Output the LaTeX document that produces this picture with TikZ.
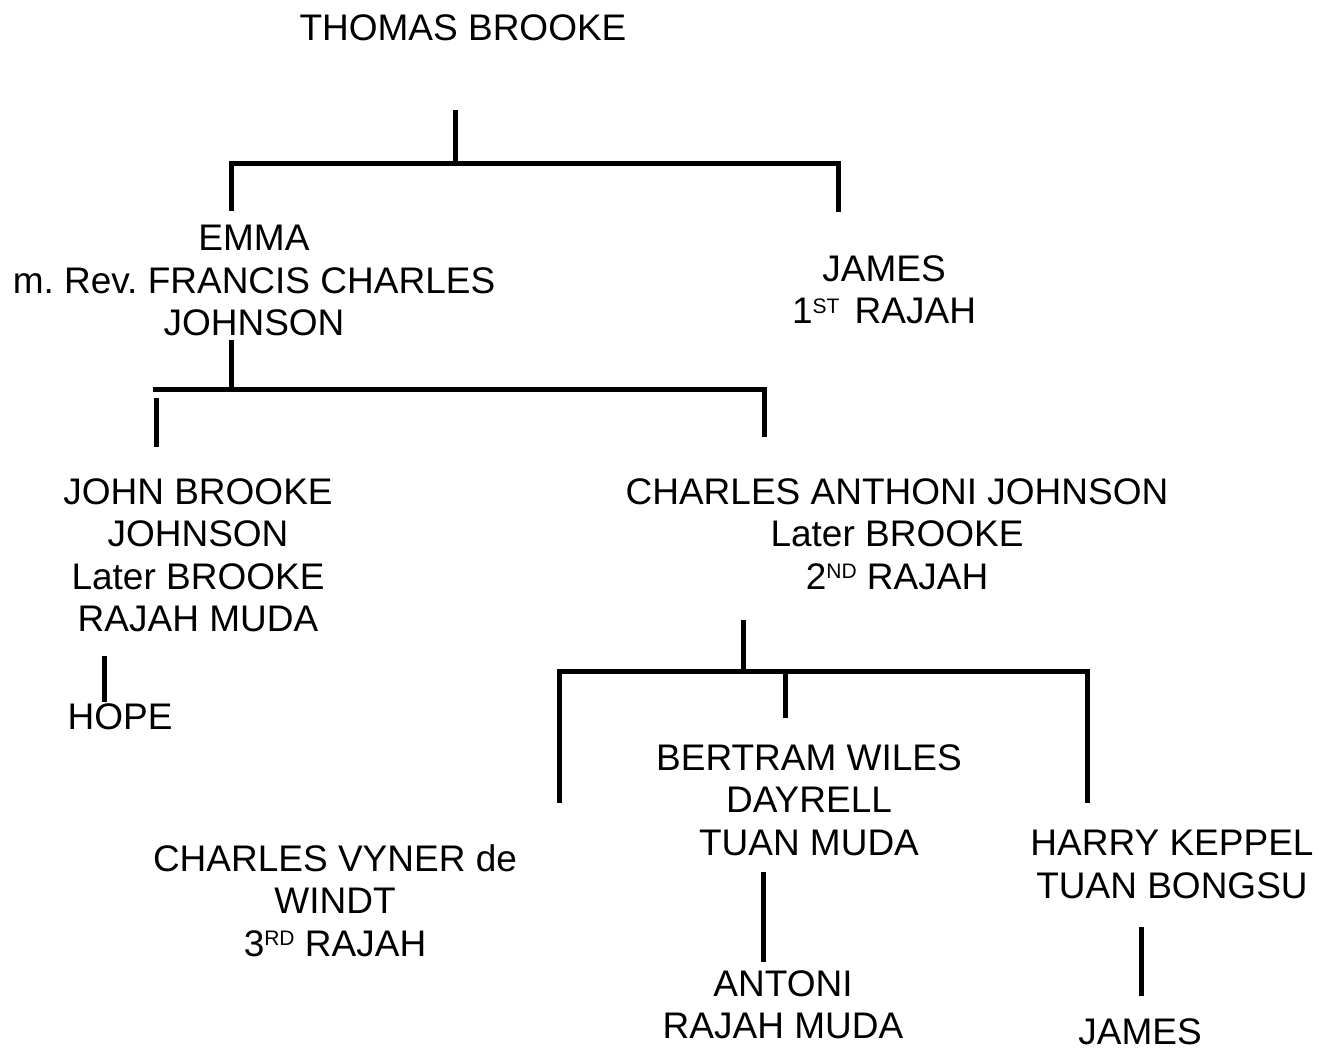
\documentclass[tikz,border=0pt]{standalone}
\usepackage{fontspec}
\setmainfont{Liberation Sans}
\frenchspacing
\newcommand\supx[1]{\raisebox{10.5pt}{\fontsize{21}{21}\selectfont #1}}
\begin{document}
\begin{tikzpicture}[x=1pt,y=-1pt,
  person/.style={anchor=north,inner sep=0pt,align=center,font=\fontsize{37}{42.5}\selectfont},
  line/.style={line width=5pt}]
\useasboundingbox[fill=white] (0,0) rectangle (1318,1053);

% people
\node[person] (thomas) at (463,14) {THOMAS BROOKE};
\node[person] (emma) at (254,225) {EMMA\\m. Rev. FRANCIS CHARLES\\JOHNSON};
\node[person] (james1) at (884,255) {JAMES\\1\supx{ST}\hspace{5pt} RAJAH};
\node[person] (john) at (198,478) {JOHN BROOKE\\JOHNSON\\Later BROOKE\\RAJAH MUDA};
\node[person] (charles) at (897,478) {CHARLES ANTHONI JOHNSON\\Later BROOKE\\2\supx{ND} RAJAH};
\node[person] (hope) at (120,703) {HOPE};
\node[person] (bertram) at (809,744) {BERTRAM WILES\\DAYRELL\\TUAN MUDA};
\node[person] (vyner) at (335,844) {CHARLES VYNER de\\WINDT\\3\supx{RD} RAJAH};
\node[person] (harry) at (1172,830) {HARRY KEPPEL\\TUAN BONGSU};
\node[person] (antoni) at (783,970) {ANTONI\\RAJAH MUDA};
\node[person] (james2) at (1140,1018) {JAMES};

% line end points
\coordinate (t1) at (455,110); \coordinate (t2) at (455,161);
\coordinate (b1l) at (229,163); \coordinate (b1r) at (841,163);
\coordinate (d1a) at (231,161); \coordinate (d1b) at (231,211);
\coordinate (d2a) at (838,161); \coordinate (d2b) at (838,212);

\coordinate (e1) at (231,340); \coordinate (e2) at (231,387);
\coordinate (b2l) at (153,389); \coordinate (b2r) at (766,389);
\coordinate (d3a) at (156,398); \coordinate (d3b) at (156,447);
\coordinate (d4a) at (764,387); \coordinate (d4b) at (764,437);

\coordinate (h1) at (104,656); \coordinate (h2) at (104,702);

\coordinate (c1) at (743,620); \coordinate (c2) at (743,669);
\coordinate (b3l) at (557,671); \coordinate (b3r) at (1090,671);
\coordinate (d5a) at (559,669); \coordinate (d5b) at (559,803);
\coordinate (d6a) at (785,669); \coordinate (d6b) at (785,718);
\coordinate (d7a) at (1087,669); \coordinate (d7b) at (1087,803);

\coordinate (a1) at (763,872); \coordinate (a2) at (763,962);
\coordinate (j1) at (1141,927); \coordinate (j2) at (1141,996);

% connectors
\draw[line] (t1) -- (t2);
\draw[line] (b1l) -- (b1r);
\draw[line] (d1a) -- (d1b);
\draw[line] (d2a) -- (d2b);
\draw[line] (e1) -- (e2);
\draw[line] (b2l) -- (b2r);
\draw[line] (d3a) -- (d3b);
\draw[line] (d4a) -- (d4b);
\draw[line] (h1) -- (h2);
\draw[line] (c1) -- (c2);
\draw[line] (b3l) -- (b3r);
\draw[line] (d5a) -- (d5b);
\draw[line] (d6a) -- (d6b);
\draw[line] (d7a) -- (d7b);
\draw[line] (a1) -- (a2);
\draw[line] (j1) -- (j2);
\end{tikzpicture}
\end{document}
